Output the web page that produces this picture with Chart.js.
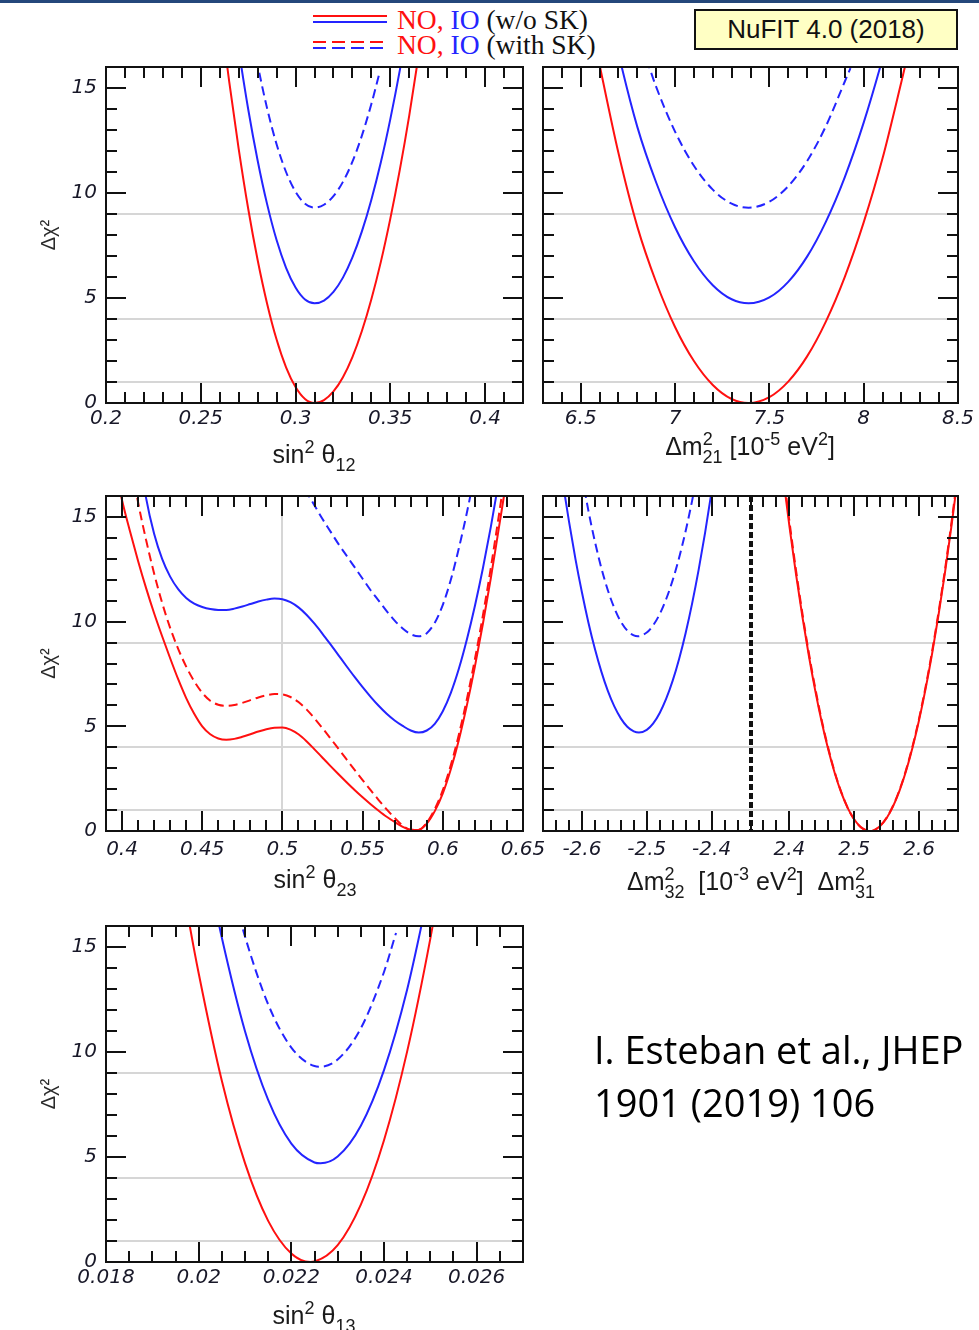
<!DOCTYPE html>
<html>
<head>
<meta charset="utf-8">
<script src="https://cdn.jsdelivr.net/npm/chart.js@4.4.1/dist/chart.umd.min.js"></script>
<style>
  html, body { margin: 0; padding: 0; background: #fff; }
  body { position: relative; width: 979px; height: 1330px; overflow: hidden; font-family: 'Liberation Sans', Arial, sans-serif; }
  canvas { position: absolute; left: 0; top: 0; }
  .topbar { position: absolute; left: 0; top: 0; width: 979px; height: 3px; background: #24477b; }
  .lg { position: absolute; height: 2px; }
  .lgt { position: absolute; left: 397px; font: 27.5px/27px 'Liberation Serif', 'Times New Roman', serif; color: #111; white-space: nowrap; }
  .red { color: #ff1010; }
  .blue { color: #2424ff; }
  .nufit { position: absolute; left: 694px; top: 9px; width: 260px; height: 37px; border: 2px solid #111; background: #ffffc4;
           font: 26px/37px 'Liberation Sans', Arial, sans-serif; text-align: center; color: #111; }
  .xt { position: absolute; transform: translateX(-50%); font: 25px/25px 'Liberation Sans', Arial, sans-serif; color: #1a1a1a; white-space: nowrap; }
  .sup { position: relative; top: -0.55em; font-size: 0.72em; }
  .sub { position: relative; top: 0.45em; font-size: 0.72em; }
  .back { margin-left: -0.56em; }
  .cite { position: absolute; left: 594px; font: 38px/38px 'Open Sans', 'Noto Sans', sans-serif; color: #000; white-space: nowrap; }
</style>
</head>
<body>
<div class="topbar"></div>

<div class="lg" style="left:313px;top:15px;width:74px;background:#ff1010"></div>
<div class="lg" style="left:313px;top:21px;width:74px;background:#2424ff"></div>
<div class="lg" style="left:313px;top:41px;width:70px;background:repeating-linear-gradient(to right,#ff1010 0 13px,transparent 13px 19px)"></div>
<div class="lg" style="left:313px;top:47px;width:70px;background:repeating-linear-gradient(to right,#2424ff 0 13px,transparent 13px 19px)"></div>
<div class="lgt" style="top:6px"><span class="red">NO,</span> <span class="blue">IO</span> (w/o SK)</div>
<div class="lgt" style="top:31px"><span class="red">NO,</span> <span class="blue">IO</span> (with SK)</div>
<div class="nufit">NuFIT 4.0 (2018)</div>

<canvas id="c12" width="979" height="1330"></canvas>
<canvas id="c21" width="979" height="1330"></canvas>
<canvas id="c23" width="979" height="1330"></canvas>
<canvas id="c3l" width="979" height="1330"></canvas>
<canvas id="c13" width="979" height="1330"></canvas>

<div class="xt" style="left:314px;top:442px">sin<span class="sup">2</span> θ<span class="sub">12</span></div>
<div class="xt" style="left:750px;top:434px">Δm<span class="sup">2</span><span class="sub back">21</span> [10<span class="sup">-5</span> eV<span class="sup">2</span>]</div>
<div class="xt" style="left:315px;top:867px">sin<span class="sup">2</span> θ<span class="sub">23</span></div>
<div class="xt" style="left:751px;top:869px">Δm<span class="sup">2</span><span class="sub back">32</span>&nbsp;&nbsp;[10<span class="sup">-3</span> eV<span class="sup">2</span>]&nbsp;&nbsp;Δm<span class="sup">2</span><span class="sub back">31</span></div>
<div class="xt" style="left:314px;top:1303px">sin<span class="sup">2</span> θ<span class="sub">13</span></div>

<div class="cite" style="top:1030px">I. Esteban et al., JHEP</div>
<div class="cite" style="top:1083px">1901 (2019) 106</div>

<script>
// sin^2 theta_12
const s12X_NO = [0.262, 0.265, 0.27, 0.275, 0.28, 0.285, 0.29, 0.295, 0.3, 0.305, 0.31, 0.315, 0.32, 0.325, 0.33, 0.335, 0.34, 0.345, 0.35, 0.355, 0.36, 0.365, 0.368]
const s12_NO = [17.4, 15.3, 12.1, 9.26, 6.81, 4.73, 3.02, 1.7, 0.76, 0.19, 0, 0.14, 0.55, 1.23, 2.19, 3.43, 4.94, 6.72, 8.78, 11.1, 13.7, 16.6, 18.5]
const s12X_IO = [0.268, 0.27, 0.275, 0.28, 0.285, 0.29, 0.295, 0.3, 0.305, 0.31, 0.315, 0.32, 0.325, 0.33, 0.335, 0.34, 0.345, 0.35, 0.355, 0.36]
const s12_IO = [18.1, 16.85, 14.0, 11.55, 9.47, 7.76, 6.44, 5.5, 4.93, 4.75, 4.88, 5.29, 5.97, 6.93, 8.17, 9.68, 11.46, 13.52, 15.84, 18.44]
const s12X_IOsk = [0.278, 0.28, 0.285, 0.29, 0.295, 0.3, 0.305, 0.31, 0.315, 0.32, 0.325, 0.33, 0.335, 0.34, 0.344]
const s12_IOsk = [17.04, 16.11, 14.03, 12.32, 11.0, 10.06, 9.49, 9.3, 9.44, 9.85, 10.53, 11.49, 12.73, 14.24, 15.62]

// Delta m^2_21 [1e-5 eV^2]
const dm21X_NO = [6.55, 6.6, 6.7, 6.8, 6.9, 7.0, 7.1, 7.2, 7.3, 7.39, 7.5, 7.6, 7.7, 7.8, 7.9, 8.0, 8.1, 8.2, 8.25]
const dm21_NO = [18.3, 16.1, 11.9, 8.4, 5.75, 3.62, 2.0, 0.86, 0.19, 0, 0.28, 1.02, 2.22, 3.89, 6.01, 8.6, 11.65, 15.3, 17.2]
const dm21X_IO = [6.65, 6.7, 6.8, 6.9, 7.0, 7.1, 7.2, 7.3, 7.39, 7.5, 7.6, 7.7, 7.8, 7.9, 8.0, 8.1, 8.15]
const dm21_IO = [18.7, 16.65, 13.15, 10.5, 8.37, 6.75, 5.61, 4.94, 4.75, 5.03, 5.77, 6.97, 8.64, 10.76, 13.35, 16.4, 18.1]
const dm21X_IOsk = [6.85, 6.9, 7.0, 7.1, 7.2, 7.3, 7.39, 7.5, 7.6, 7.7, 7.8, 7.9, 7.93]
const dm21_IOsk = [16.35, 15.05, 12.92, 11.3, 10.16, 9.49, 9.3, 9.58, 10.32, 11.52, 13.19, 15.31, 15.95]

// sin^2 theta_23
const s23X_NO = [0.395, 0.4, 0.405, 0.41, 0.415, 0.42, 0.425, 0.43, 0.435, 0.44, 0.445, 0.45, 0.455, 0.46, 0.465, 0.47, 0.475, 0.48, 0.485, 0.49, 0.495, 0.5, 0.505, 0.51, 0.515, 0.52, 0.525, 0.53, 0.535, 0.54, 0.545, 0.55, 0.555, 0.56, 0.565, 0.57, 0.575, 0.58, 0.585, 0.59, 0.595, 0.6, 0.605, 0.61, 0.615, 0.62, 0.625, 0.63, 0.635, 0.64, 0.645]
const s23_NO = [17.6, 15.8, 14.3, 12.9, 11.6, 10.4, 9.3, 8.25, 7.25, 6.35, 5.6, 5.0, 4.62, 4.42, 4.36, 4.4, 4.5, 4.62, 4.75, 4.86, 4.93, 4.94, 4.84, 4.62, 4.29, 3.9, 3.5, 3.1, 2.71, 2.33, 1.96, 1.61, 1.28, 0.97, 0.68, 0.43, 0.2, 0.05, 0.05, 0.35, 0.95, 1.8, 2.95, 4.35, 6.0, 7.85, 9.9, 12.1, 14.5, 16.9, 19.4]
const s23X_NOsk = [0.405, 0.41, 0.415, 0.42, 0.425, 0.43, 0.435, 0.44, 0.445, 0.45, 0.455, 0.46, 0.465, 0.47, 0.475, 0.48, 0.485, 0.49, 0.495, 0.5, 0.505, 0.51, 0.515, 0.52, 0.525, 0.53, 0.535, 0.54, 0.545, 0.55, 0.555, 0.56, 0.565, 0.57, 0.575, 0.58, 0.585, 0.59, 0.595, 0.6, 0.605, 0.61, 0.615, 0.62, 0.625, 0.63, 0.635, 0.64]
const s23_NOsk = [17.9, 15.7, 13.9, 12.3, 10.9, 9.7, 8.7, 7.85, 7.15, 6.6, 6.22, 6.03, 5.98, 6.02, 6.12, 6.25, 6.38, 6.48, 6.54, 6.52, 6.4, 6.16, 5.81, 5.38, 4.91, 4.42, 3.92, 3.42, 2.92, 2.43, 1.95, 1.48, 1.03, 0.62, 0.26, 0.06, 0.06, 0.4, 1.05, 1.95, 3.15, 4.6, 6.3, 8.2, 10.3, 12.6, 15.1, 17.7]
const s23X_IO = [0.41, 0.415, 0.42, 0.425, 0.43, 0.435, 0.44, 0.445, 0.45, 0.455, 0.46, 0.465, 0.47, 0.475, 0.48, 0.485, 0.49, 0.495, 0.5, 0.505, 0.51, 0.515, 0.52, 0.525, 0.53, 0.535, 0.54, 0.545, 0.55, 0.555, 0.56, 0.565, 0.57, 0.575, 0.58, 0.585, 0.59, 0.595, 0.6, 0.605, 0.61, 0.615, 0.62, 0.625, 0.63, 0.635, 0.64]
const s23_IO = [18.4, 15.9, 14.2, 13.0, 12.15, 11.55, 11.13, 10.86, 10.7, 10.6, 10.56, 10.56, 10.62, 10.72, 10.84, 10.96, 11.05, 11.1, 11.07, 10.93, 10.68, 10.33, 9.9, 9.42, 8.91, 8.39, 7.87, 7.36, 6.87, 6.41, 5.98, 5.6, 5.28, 5.02, 4.8, 4.7, 4.8, 5.12, 5.72, 6.6, 7.75, 9.15, 10.75, 12.55, 14.55, 16.75, 19.1]
const s23X_IOsk = [0.51, 0.515, 0.52, 0.525, 0.53, 0.535, 0.54, 0.545, 0.55, 0.555, 0.56, 0.565, 0.57, 0.575, 0.58, 0.585, 0.59, 0.595, 0.6, 0.605, 0.61, 0.615, 0.62, 0.625]
const s23_IOsk = [16.9, 16.2, 15.55, 14.9, 14.3, 13.7, 13.15, 12.6, 12.05, 11.5, 11.0, 10.5, 10.05, 9.67, 9.4, 9.3, 9.45, 9.95, 10.8, 12.0, 13.5, 15.2, 17.1, 19.0]

// Delta m^2_32 (IO) and Delta m^2_31 (NO) [1e-3 eV^2]
const dm32X_IO = [-2.64, -2.63, -2.62, -2.61, -2.6, -2.59, -2.58, -2.57, -2.56, -2.55, -2.54, -2.53, -2.52, -2.512, -2.5, -2.49, -2.48, -2.47, -2.46, -2.45, -2.44, -2.43, -2.42, -2.41, -2.4, -2.39]
const dm32_IO = [18.9, 16.75, 14.8, 13.0, 11.4, 9.96, 8.7, 7.61, 6.69, 5.95, 5.38, 4.98, 4.76, 4.7, 4.83, 5.14, 5.64, 6.32, 7.18, 8.23, 9.46, 10.87, 12.47, 14.25, 16.22, 18.37]
const dm32X_IOsk = [-2.6, -2.59, -2.58, -2.57, -2.56, -2.55, -2.54, -2.53, -2.52, -2.514, -2.5, -2.49, -2.48, -2.47, -2.46, -2.45, -2.44, -2.43, -2.42]
const dm32_IOsk = [17.0, 15.3, 13.83, 12.56, 11.5, 10.65, 10.0, 9.57, 9.34, 9.3, 9.48, 9.83, 10.36, 11.08, 11.98, 13.06, 14.33, 15.78, 17.41]
const dm31X_NO = [2.38, 2.39, 2.4, 2.41, 2.42, 2.43, 2.44, 2.45, 2.46, 2.47, 2.48, 2.49, 2.5, 2.51, 2.52, 2.524, 2.53, 2.54, 2.55, 2.56, 2.57, 2.58, 2.59, 2.6, 2.61, 2.62, 2.63, 2.64, 2.65, 2.66]
const dm31_NO = [19.6, 17.0, 14.56, 12.3, 10.24, 8.37, 6.68, 5.18, 3.88, 2.76, 1.83, 1.09, 0.55, 0.19, 0.02, 0, 0.03, 0.24, 0.62, 1.19, 1.94, 2.88, 4.0, 5.3, 6.79, 8.46, 10.32, 12.36, 14.58, 16.98]
const dm31X_NOsk = [2.38, 2.39, 2.4, 2.41, 2.42, 2.43, 2.44, 2.45, 2.46, 2.47, 2.48, 2.49, 2.5, 2.51, 2.52, 2.525, 2.53, 2.54, 2.55, 2.56, 2.57, 2.58, 2.59, 2.6, 2.61, 2.62, 2.63, 2.64, 2.65, 2.66]
const dm31_NOsk = [19.9, 17.3, 14.8, 12.5, 10.4, 8.5, 6.8, 5.27, 3.95, 2.8, 1.86, 1.1, 0.55, 0.18, 0.01, 0, 0.03, 0.25, 0.64, 1.22, 1.98, 2.93, 4.06, 5.38, 6.88, 8.57, 10.45, 12.5, 14.75, 17.15]
const IO_EDGE = -2.34   // right end of the Delta m^2_32 part
const NO_EDGE = 2.34    // left end of the Delta m^2_31 part

// sin^2 theta_13
const s13X_NO = [0.0195, 0.0198, 0.02, 0.0205, 0.021, 0.0215, 0.022, 0.02241, 0.0225, 0.023, 0.0235, 0.024, 0.0245, 0.025, 0.0253]
const s13_NO = [20.0, 16.1, 13.75, 8.63, 4.71, 1.96, 0.4, 0, 0.02, 0.8, 2.73, 5.8, 10.03, 15.4, 19.2]
const s13X_IO = [0.0203, 0.0205, 0.021, 0.0215, 0.022, 0.0225, 0.02263, 0.023, 0.0235, 0.024, 0.0245, 0.025]
const s13_IO = [17.55, 15.44, 10.99, 7.72, 5.64, 4.74, 4.7, 5.02, 6.49, 9.14, 12.98, 18.0]
const s13X_IOsk = [0.0208, 0.021, 0.0215, 0.022, 0.0225, 0.02262, 0.023, 0.0235, 0.024, 0.02426]
const s13_IOsk = [17.14, 15.5, 12.27, 10.21, 9.33, 9.3, 9.64, 11.13, 13.81, 15.67]

// reference levels drawn as grey lines
const REF_LEVELS = [1, 4, 9]

const RED = '#ff1010'
const BLUE = '#2424ff'
const INK = '#111'
const REF_GRAY = '#d6d6d6'
const DASH = [9, 5]
const TICK_FONT = { family: "'DejaVu Sans', sans-serif", size: 20, style: 'italic' }
const TICK_COLOR = '#181828'
const PAGE_W = 979, PAGE_H = 1330
const Y_W = 71, X_H = 34

const isMult = (v, step) => Math.abs(v / step - Math.round(v / step)) < 1e-6
const fmt = v => String(parseFloat(v.toFixed(4)))
const near = (list, v) => list.some(r => Math.abs(r - v) < 1e-9)

function curve(xs, ys, color, dashed, shift = 0) {
    return {
        data: xs.map((x, i) => ({ x: x + shift, y: ys[i] })),
        borderColor: color,
        borderWidth: 2,
        borderDash: dashed ? DASH : [],
        showLine: true,
        pointRadius: 0
    }
}

// frame with inward ticks on all four sides, plus optional split line
function framePlugin(split) {
    return {
        id: 'frame',
        afterDraw(chart) {
            const { ctx, chartArea: a, scales: { x, y } } = chart
            ctx.save()
            ctx.strokeStyle = INK
            ctx.lineWidth = 2
            ctx.beginPath()
            x.ticks.forEach(t => {
                const p = Math.round(x.getPixelForValue(t.value))
                const len = t.label ? 20 : 11
                ctx.moveTo(p, a.bottom); ctx.lineTo(p, a.bottom - len)
                ctx.moveTo(p, a.top); ctx.lineTo(p, a.top + len)
            })
            y.ticks.forEach(t => {
                const p = Math.round(y.getPixelForValue(t.value))
                const len = isMult(t.value, 5) ? 20 : 11
                ctx.moveTo(a.left, p); ctx.lineTo(a.left + len, p)
                ctx.moveTo(a.right, p); ctx.lineTo(a.right - len, p)
            })
            ctx.stroke()
            ctx.strokeRect(a.left, a.top, a.right - a.left, a.bottom - a.top)
            if (split !== undefined) {
                const p = Math.round(x.getPixelForValue(split))
                ctx.lineWidth = 4
                ctx.setLineDash([6, 3])
                ctx.beginPath()
                ctx.moveTo(p, a.top); ctx.lineTo(p, a.bottom)
                ctx.stroke()
            }
            ctx.restore()
        }
    }
}

function panel(id, cfg) {
    const [left, top, right, bottom] = cfg.area
    return new Chart(document.getElementById(id), {
        type: 'scatter',
        data: { datasets: cfg.datasets },
        options: {
            responsive: false,
            animation: false,
            events: [],
            layout: {
                padding: { left: left - Y_W, top: top, right: PAGE_W - right, bottom: PAGE_H - bottom - X_H }
            },
            elements: { line: { cubicInterpolationMode: 'monotone', capBezierPoints: false } },
            plugins: { legend: { display: false }, tooltip: { enabled: false } },
            scales: {
                x: {
                    type: 'linear',
                    min: cfg.xMin,
                    max: cfg.xMax,
                    afterFit: s => { s.height = X_H },
                    border: { display: false },
                    grid: {
                        drawTicks: false,
                        lineWidth: 2,
                        color: c => near(cfg.refX || [], c.tick.value) ? REF_GRAY : 'rgba(0,0,0,0)'
                    },
                    ticks: {
                        stepSize: cfg.xStep,
                        maxTicksLimit: 200,
                        autoSkip: false,
                        maxRotation: 0,
                        padding: cfg.labelPad,
                        font: TICK_FONT,
                        color: TICK_COLOR,
                        callback: cfg.xLabel
                    }
                },
                y: {
                    min: 0,
                    max: 16,
                    afterFit: s => { s.width = Y_W },
                    border: { display: false },
                    title: {
                        display: cfg.yTitle,
                        text: 'Δχ²',
                        color: '#2a2a2a',
                        padding: { top: 2, bottom: 2 },
                        font: { family: "'Liberation Sans', Arial, sans-serif", size: 20 }
                    },
                    grid: {
                        drawTicks: false,
                        lineWidth: 2,
                        color: c => near(REF_LEVELS, c.tick.value) ? REF_GRAY : 'rgba(0,0,0,0)'
                    },
                    ticks: {
                        stepSize: 1,
                        autoSkip: false,
                        padding: 9,
                        font: TICK_FONT,
                        color: TICK_COLOR,
                        callback: v => (cfg.yTitle && isMult(v, 5)) ? fmt(v) : ''
                    }
                }
            }
        },
        plugins: [framePlugin(cfg.split)]
    })
}

const every = step => v => isMult(v, step) ? fmt(v) : ''
const SHIFT = NO_EDGE - IO_EDGE

panel('c12', {
    area: [106, 67, 523, 403], xMin: 0.2, xMax: 0.42, xStep: 0.01, xLabel: every(0.05), yTitle: true, labelPad: 4,
    datasets: [
        curve(s12X_NO, s12_NO, RED, false),
        curve(s12X_IO, s12_IO, BLUE, false),
        curve(s12X_IOsk, s12_IOsk, BLUE, true)
    ]
})

panel('c21', {
    area: [543, 67, 958, 403], xMin: 6.3, xMax: 8.5, xStep: 0.1, xLabel: every(0.5), yTitle: false, labelPad: 4,
    datasets: [
        curve(dm21X_NO, dm21_NO, RED, false),
        curve(dm21X_IO, dm21_IO, BLUE, false),
        curve(dm21X_IOsk, dm21_IOsk, BLUE, true)
    ]
})

panel('c23', {
    area: [106, 496, 523, 831], xMin: 0.39, xMax: 0.65, xStep: 0.01, xLabel: every(0.05), yTitle: true, labelPad: 7, refX: [0.5],
    datasets: [
        curve(s23X_NO, s23_NO, RED, false),
        curve(s23X_IO, s23_IO, BLUE, false),
        curve(s23X_NOsk, s23_NOsk, RED, true),
        curve(s23X_IOsk, s23_IOsk, BLUE, true)
    ]
})

// one axis: left part is Delta m^2_32, right part Delta m^2_31 moved left by SHIFT
panel('c3l', {
    area: [543, 496, 958, 831], xMin: -2.66, xMax: 2.66 - SHIFT, xStep: 0.02, yTitle: false, labelPad: 7, split: IO_EDGE,
    xLabel: v => {
        const real = v > IO_EDGE + 1e-9 ? v + SHIFT : v
        return isMult(real, 0.1) ? real.toFixed(1) : ''
    },
    datasets: [
        curve(dm31X_NO, dm31_NO, RED, false, -SHIFT),
        curve(dm32X_IO, dm32_IO, BLUE, false),
        curve(dm31X_NOsk, dm31_NOsk, RED, true, -SHIFT),
        curve(dm32X_IOsk, dm32_IOsk, BLUE, true)
    ]
})

panel('c13', {
    area: [106, 926, 523, 1262], xMin: 0.018, xMax: 0.027, xStep: 0.0005, xLabel: every(0.002), yTitle: true, labelPad: 4,
    datasets: [
        curve(s13X_NO, s13_NO, RED, false),
        curve(s13X_IO, s13_IO, BLUE, false),
        curve(s13X_IOsk, s13_IOsk, BLUE, true)
    ]
})
</script>
</body>
</html>
